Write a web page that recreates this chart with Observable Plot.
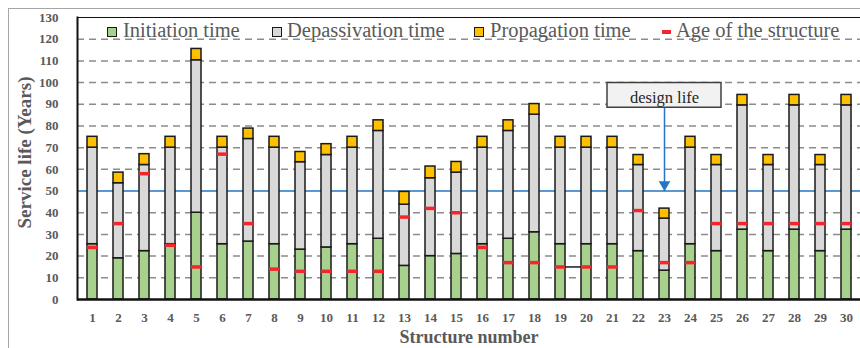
<!DOCTYPE html>
<html>
<head>
<meta charset="utf-8">
<script src="https://cdn.jsdelivr.net/npm/d3@7"></script>
<script src="https://cdn.jsdelivr.net/npm/@observablehq/plot@0.6"></script>
<style>
  html, body { margin: 0; padding: 0; background: #fff; }
  #wrap { position: relative; width: 860px; height: 348px; overflow: hidden; font-family: "Liberation Serif", serif; }
  #outer { position: absolute; left: 8px; top: 8px; width: 900px; height: 400px; border-left: 1px solid #a6a6a6; border-top: 1px solid #a6a6a6; box-sizing: border-box; }
  #chart { position: absolute; left: 0; top: 0; }
  .sw { position: absolute; top: 27px; width: 8px; height: 8px; border: 1.5px solid #1a1a1a; }
  .swline { position: absolute; top: 30px; width: 9px; height: 3.5px; }
  .lt { position: absolute; top: 20px; font-size: 20.5px; line-height: 1; color: #595959; white-space: nowrap; }
</style>
</head>
<body>
<div id="wrap">
  <div id="outer"></div>
  <div id="chart"></div>
  <div id="legend"></div>
</div>
<script>
// ---- data ----
const structures = [1,2,3,4,5,6,7,8,9,10,11,12,13,14,15,16,17,18,19,20,21,22,23,24,25,26,27,28,29,30];
const initiation    = [25.5,19,22.3,25.5,40,25.5,26.7,25.5,23,24,25.5,28,15.5,20,21,25.5,28,31,25.5,25.5,25.5,22.3,13.3,25.5,22.3,32.2,22.3,32.2,22.3,32.2];
const depassivation = [44.5,34.6,39.7,44.5,70.3,44.5,47.3,44.5,40.3,42.6,44.5,49.7,28.2,35.9,37.5,44.5,49.7,54.2,44.5,44.5,44.5,39.7,24,44.5,39.7,57.3,39.7,57.3,39.7,57.3];
const propagation   = [5,4.9,5,5,5.2,5,4.8,5,4.7,5,5,4.9,5.9,5.4,4.9,5,4.9,4.9,5,5,5,4.6,4.6,5,4.6,4.8,4.6,4.8,4.6,4.8];
const age           = [24,35,58,25,15,67,35,14,13,13,13,13,38,42,40,24,17,17,15,15,15,41,17,17,35,35,35,35,35,35];
const phases = ["Initiation time", "Depassivation time", "Propagation time"];
const ageLabel = "Age of the structure";
const yTicks = [0,10,20,30,40,50,60,70,80,90,100,110,120,130];
const gridTicks = [10,20,30,40,60,70,80,90,100,110,120];
const designLife = 50;
const annotationLabel = "design life";
const annotationStructure = 23;
const annotationBox = [{from: 21, to: 25, low: 88.4, high: 99.8, textY: 93}];
const strayLink = [{from: 19, to: 20, y: 15}];
const xLabel = "Structure number";
const yLabel = "Service life (Years)";

// ---- styles ----
const colors = ["#a9d18e", "#d9d9d9", "#ffc000"];
const ageColor = "#f5262b";
const blue = "#2476c3";
const ink = "#1a1a1a";

const series = [initiation, depassivation, propagation];
const long = structures.flatMap((s, i) => phases.map((p, k) => ({structure: s, phase: p, value: series[k][i]})));
const ageData = structures.map((s, i) => ({structure: s, age: age[i]}));

const chart = Plot.plot({
  width: 860,
  height: 348,
  marginLeft: 77,
  marginRight: 0,
  marginTop: 17,
  marginBottom: 49,
  style: {fontFamily: "Liberation Serif", background: "transparent", color: "#595959", overflow: "visible"},
  x: {type: "band", domain: structures, range: [76, 863], paddingInner: 0.6, paddingOuter: 0.3, align: 0.5},
  y: {domain: [0, 130]},
  color: {domain: phases, range: colors},
  marks: [
    Plot.ruleY(gridTicks, {stroke: "#8c8c8c", strokeWidth: 1.5, strokeDasharray: "7,5"}),
    Plot.ruleY([designLife], {stroke: blue, strokeWidth: 1.5}),
    Plot.link(strayLink, {x1: "from", x2: "to", y1: "y", y2: "y", stroke: ink, strokeWidth: 1.5}),
    Plot.barY(long, {x: "structure", y: "value", fill: "phase", order: phases, stroke: ink, strokeWidth: 1.5}),
    Plot.tickY(ageData, {x: "structure", y: "age", stroke: ageColor, strokeWidth: 3.5}),
    Plot.ruleY([0], {stroke: "#111", strokeWidth: 2.5}),
    Plot.ruleY([130], {stroke: "#111", strokeWidth: 1}),
    Plot.frame({anchor: "left", stroke: "#111", strokeWidth: 2}),
    Plot.axisY({ticks: yTicks, tickSize: 0, tickPadding: 19, label: null, fontSize: 13, fontWeight: "bold"}),
    Plot.axisX({tickSize: 0, tickPadding: 13, label: null, fontSize: 13, fontWeight: "bold"}),
    Plot.text([yLabel], {text: d => d, frameAnchor: "left", textAnchor: "middle", rotate: -90, dx: -53, dy: -6, fontSize: 19, fontWeight: "bold", fill: "#595959"}),
    Plot.text([xLabel], {text: d => d, frameAnchor: "bottom", dy: 38, lineAnchor: "middle", fontSize: 18, fontWeight: "bold", fill: "#595959"}),
    // annotation
    Plot.link(annotationBox, {x1: () => annotationStructure, x2: () => annotationStructure, y1: "low", y2: () => designLife, stroke: blue, strokeWidth: 1.5}),
    Plot.dot(annotationBox, {x: () => annotationStructure, y: () => designLife, symbol: "triangle", rotate: 180, r: 4.3, dy: -6.5, fill: blue, stroke: "none"}),
    Plot.rect(annotationBox, {x1: "from", x2: "to", y1: "low", y2: "high", fill: "#f2f2f2", stroke: "#404040", strokeWidth: 1.5}),
    Plot.text(annotationBox, {x: () => annotationStructure, y: "textY", text: () => annotationLabel, fontSize: 16.5, fill: "#262626"})
  ]
});
document.getElementById("chart").appendChild(chart);

// ---- legend (HTML overlay) ----
const legendLayout = [
  {sw: 107, tx: 123},
  {sw: 272, tx: 287},
  {sw: 474, tx: 490},
  {sw: 662, tx: 676}
];
const leg = document.getElementById("legend");
const labels = [...phases, ageLabel];
labels.forEach((lab, k) => {
  const L = legendLayout[k];
  const s = document.createElement("div");
  if (k < 3) { s.className = "sw"; s.style.background = colors[k]; }
  else { s.className = "swline"; s.style.background = ageColor; }
  s.style.left = L.sw + "px";
  leg.appendChild(s);
  const t = document.createElement("span");
  t.className = "lt";
  t.style.left = L.tx + "px";
  t.textContent = lab;
  leg.appendChild(t);
});
</script>
</body>
</html>
